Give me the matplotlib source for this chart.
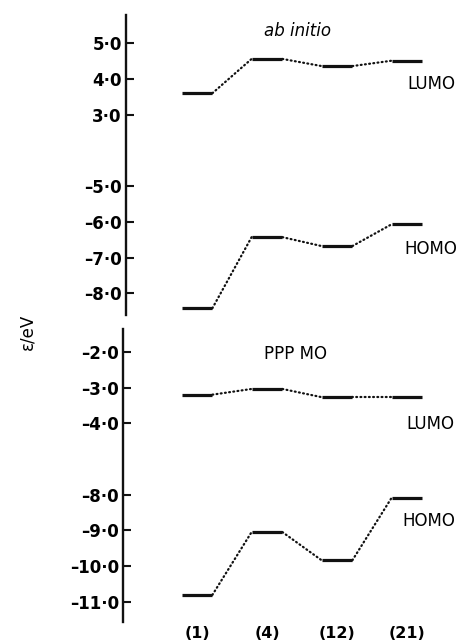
import numpy as np
import matplotlib.pyplot as plt

compounds = ["(1)", "(4)", "(12)", "(21)"]

# orbital energies (eV)
abinitio_lumo = [3.60, 4.56, 4.36, 4.51]
abinitio_homo = [-8.42, -6.43, -6.68, -6.07]
ppp_lumo = [-3.20, -3.04, -3.27, -3.27]
ppp_homo = [-10.81, -9.05, -9.84, -8.09]

top_ticks = [5.0, 4.0, 3.0, -5.0, -6.0, -7.0, -8.0]
bottom_ticks = [-2.0, -3.0, -4.0, -8.0, -9.0, -10.0, -11.0]


def tick_label(v):
    s = f"{abs(v):.1f}".replace(".", "\u00b7")
    return ("\u2013" + s) if v < 0 else s


# broken energy axes: compress the empty middle range
def top_fwd(y):
    y = np.asarray(y, dtype=float)
    return np.where(y >= 3, y - 6, np.where(y >= -5, -5 + (y + 5) / 4, y))


def top_inv(v):
    v = np.asarray(v, dtype=float)
    return np.where(v >= -3, v + 6, np.where(v >= -5, -5 + (v + 5) * 4, v))


def bot_fwd(y):
    y = np.asarray(y, dtype=float)
    return np.where(y >= -4, y - 2, np.where(y >= -8, -8 + (y + 8) / 2, y))


def bot_inv(v):
    v = np.asarray(v, dtype=float)
    return np.where(v >= -6, v + 2, np.where(v >= -8, -8 + (v + 8) * 2, v))


W, H = 461, 642
fig = plt.figure(figsize=(W / 100, H / 100), dpi=100)
plt.rcParams["font.family"] = ["DejaVu Sans"]

# pixel layout
x0_px, dx_px = 197, 70
top_left, bot_left = 126, 123
ax_top = fig.add_axes([top_left / W, (H - 315) / H, (W - top_left) / W, 300 / H])
ax_bot = fig.add_axes([bot_left / W, (H - 622) / H, (W - bot_left) / W, 293 / H])

hw = 0.22
ink = "#111111"


def draw_levels(ax, vals):
    for i, v in enumerate(vals):
        ax.plot([i - hw, i + hw], [v, v], color=ink, lw=2.3, solid_capstyle="butt")
    for i in range(len(vals) - 1):
        ax.plot([i + hw, i + 1 - hw], [vals[i], vals[i + 1]], color=ink, lw=1.6,
                linestyle=(0, (0.4, 1.5)), dash_capstyle="round")


for ax, left, fwd, inv, ticks, ylim in [
    (ax_top, top_left, top_fwd, top_inv, top_ticks, (-8.61, 5.79)),
    (ax_bot, bot_left, bot_fwd, bot_inv, bottom_ticks, (-11.57, -1.36)),
]:
    ax.set_yscale("function", functions=(fwd, inv))
    ax.set_ylim(*ylim)
    ax.set_xlim((left - x0_px) / dx_px, (W - x0_px) / dx_px)
    for s in ["top", "right", "bottom"]:
        ax.spines[s].set_visible(False)
    ax.spines["left"].set_linewidth(1.7)
    ax.spines["left"].set_color(ink)
    ax.set_yticks(ticks)
    ax.set_yticklabels([tick_label(t) for t in ticks], fontsize=12, fontweight="bold")
    ax.yaxis.set_minor_locator(plt.NullLocator())
    ax.tick_params(axis="y", direction="in", length=6, width=1.5, pad=3, color=ink)
    ax.patch.set_alpha(0)

ax_top.set_xticks([])
ax_bot.set_xticks(range(len(compounds)))
ax_bot.set_xticklabels(compounds, fontsize=11.5, fontweight="bold")
ax_bot.tick_params(axis="x", length=0, pad=3)

draw_levels(ax_top, abinitio_lumo)
draw_levels(ax_top, abinitio_homo)
draw_levels(ax_bot, ppp_lumo)
draw_levels(ax_bot, ppp_homo)

# annotations
ax_top.text(1.43, 5.35, "ab initio", fontsize=12, style="italic", ha="center", va="center")
ax_top.text(3.0, 3.85, "LUMO", fontsize=12, ha="left", va="center")
ax_top.text(2.96, -6.75, "HOMO", fontsize=12, ha="left", va="center")
ax_bot.text(1.4, -2.05, "PPP MO", fontsize=12, ha="center", va="center")
ax_bot.text(2.99, -4.05, "LUMO", fontsize=12, ha="left", va="center")
ax_bot.text(2.94, -8.75, "HOMO", fontsize=12, ha="left", va="center")

fig.text(27 / W, (H - 332) / H, "\u03b5/eV", rotation=90, fontsize=12,
         ha="center", va="center")

fig.savefig("out.png", dpi=100)
